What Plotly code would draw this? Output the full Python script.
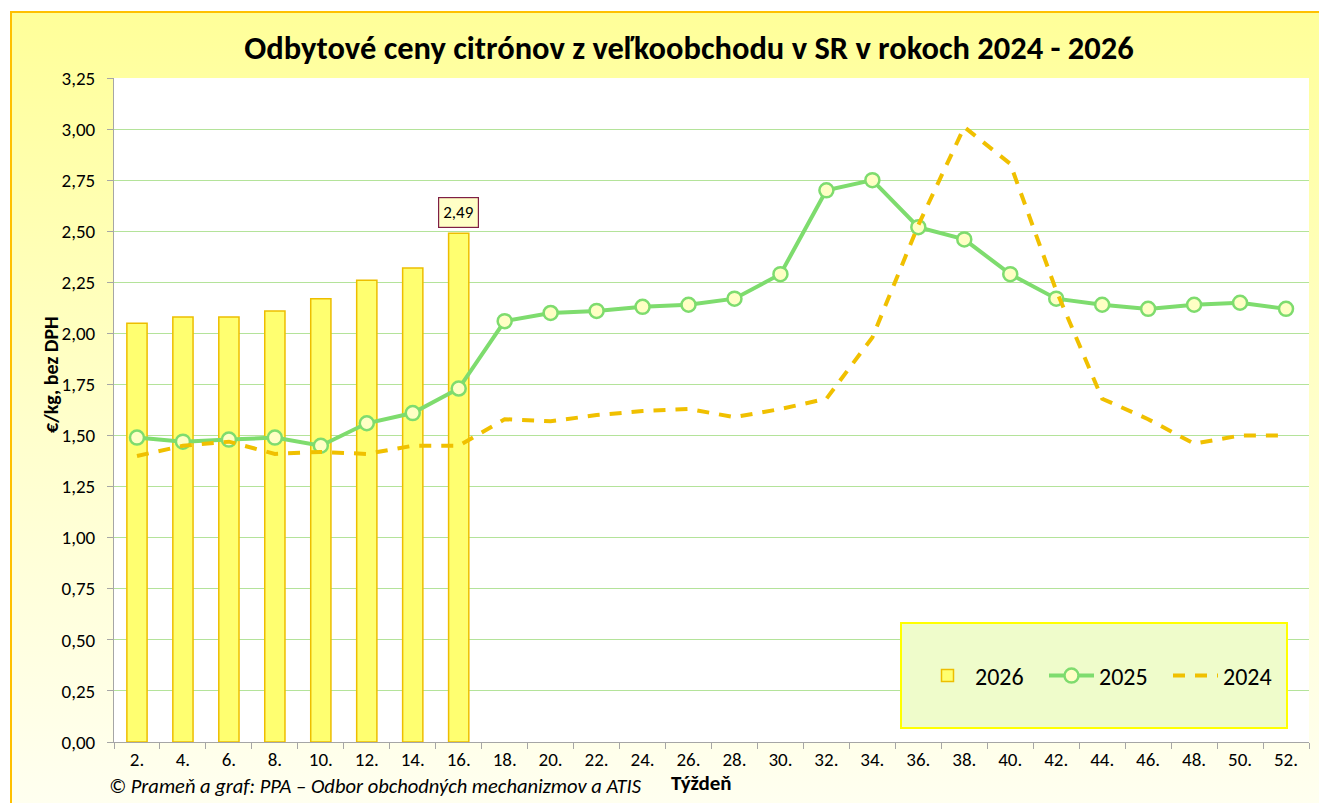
import base64
import plotly.graph_objects as go

# ---------------- data ----------------
weeks = ["2.", "4.", "6.", "8.", "10.", "12.", "14.", "16.", "18.", "20.", "22.", "24.", "26.",
         "28.", "30.", "32.", "34.", "36.", "38.", "40.", "42.", "44.", "46.", "48.", "50.", "52."]
weeks_2026 = weeks[:8]
v2026 = [2.05, 2.08, 2.08, 2.11, 2.17, 2.26, 2.32, 2.49]
v2025 = [1.49, 1.47, 1.48, 1.49, 1.45, 1.56, 1.61, 1.73, 2.06, 2.10, 2.11, 2.13, 2.14,
         2.17, 2.29, 2.70, 2.75, 2.52, 2.46, 2.29, 2.17, 2.14, 2.12, 2.14, 2.15, 2.12]
v2024 = [1.40, 1.45, 1.47, 1.41, 1.42, 1.41, 1.45, 1.45, 1.58, 1.57, 1.60, 1.62, 1.63,
         1.59, 1.63, 1.68, 1.98, 2.53, 3.01, 2.83, 2.21, 1.68, 1.58, 1.46, 1.50, 1.50]
label_week = "16."
label_value = 2.49

# ---------------- geometry helpers ----------------
OFF = 8                                # page body margin of the browser
W, H = 1327 - 2 * OFF, 811 - 2 * OFF   # figure size that fits without scrolling
# plot area in screen pixels: x 114..1309, y 78..742
L, R, T, B = 114 - OFF, W - (1309 - OFF), 78 - OFF, H - (742 - OFF)
PW, PH = W - L - R, H - T - B


def px(xs):  # screen x -> paper x
    return (xs - OFF - L) / PW


def py(ys):  # screen y -> paper y
    return (H - B - (ys - OFF)) / PH


FONT = "Carlito, Lato, 'Open Sans', sans-serif"

# background: white page, yellow gradient panel with orange border
bx, by = 11 - OFF, 12 - OFF
svg = f'''<svg xmlns="http://www.w3.org/2000/svg" width="{W}" height="{H}" viewBox="0 0 {W} {H}" preserveAspectRatio="none">
<defs><linearGradient id="g" x1="0" y1="0" x2="0" y2="1">
<stop offset="0" stop-color="#FFFF99"/><stop offset="0.5" stop-color="#FFFFCC"/><stop offset="1" stop-color="#FFFFF4"/></linearGradient></defs>
<rect width="{W}" height="{H}" fill="#FFFFFF"/>
<rect x="{bx}" y="{by}" width="{W + 40}" height="{H + 40}" fill="url(#g)" stroke="#FFC000" stroke-width="2"/>
</svg>'''
svg_uri = "data:image/svg+xml;base64," + base64.b64encode(svg.encode()).decode()

fig = go.Figure()

fig.add_trace(go.Bar(
    x=weeks_2026, y=v2026, name="2026",
    marker=dict(color="#FFFF70", line=dict(color="#EDBE00", width=1.5)),
))
fig.add_trace(go.Scatter(
    x=weeks, y=v2025, name="2025", mode="lines+markers",
    line=dict(color="#7EDC6E", width=4),
    marker=dict(size=14, color="#FFFFC4", line=dict(color="#7EDC6E", width=2.5)),
))
fig.add_trace(go.Scatter(
    x=weeks, y=v2024, name="2024", mode="lines",
    line=dict(color="#F0C000", width=4, dash="12px,10px"),
))

fig.add_annotation(
    x=weeks.index(label_week), y=label_value, xref="x", yref="y",
    text=f"{label_value:.2f}".replace(".", ","),
    showarrow=False, yanchor="bottom", yshift=5,
    font=dict(family=FONT, size=17, color="#000000"),
    bgcolor="#FFFFC6", bordercolor="#7F1F45", borderwidth=1.2, borderpad=4,
)

fig.add_annotation(
    x=px(37), y=py(375), xref="paper", yref="paper",
    text="<b>€/kg, bez DPH</b>", textangle=-90, showarrow=False,
    font=dict(family=FONT, size=20, color="#000000"),
)
fig.add_annotation(
    x=px(701), y=py(798), xref="paper", yref="paper",
    text="<b>Týždeň</b>", showarrow=False,
    font=dict(family=FONT, size=21, color="#000000"),
)
fig.add_annotation(
    x=px(107), y=py(801), xref="paper", yref="paper", xanchor="left",
    text="<i>© Prameň a graf: PPA – Odbor obchodných mechanizmov a ATIS</i>", showarrow=False,
    font=dict(family=FONT, size=20.5, color="#000000"),
)

fig.update_layout(
    width=W, height=H,
    margin=dict(l=L, r=R, t=T, b=B),
    paper_bgcolor="#FFFFFF", plot_bgcolor="rgba(0,0,0,0)",
    separators=", ",
    font=dict(family=FONT, color="#000000"),
    title=dict(text="<b>Odbytové ceny citrónov z veľkoobchodu v SR v rokoch 2024 - 2026</b>",
               x=(689 - OFF) / W, xanchor="center", y=1 - (48 - OFF) / H, yanchor="middle",
               font=dict(family=FONT, size=32.5, color="#000000")),
    bargap=0.56,
    showlegend=True,
    legend=dict(orientation="h", x=px(920), y=py(676), xanchor="left", yanchor="middle",
                bgcolor="rgba(0,0,0,0)", font=dict(family=FONT, size=24, color="#000000"),
                traceorder="normal", itemwidth=45, entrywidth=64),
    images=[dict(source=svg_uri, xref="paper", yref="paper", x=-L / PW, y=(PH + T) / PH,
                 sizex=W / PW, sizey=H / PH, xanchor="left", yanchor="top",
                 sizing="stretch", layer="below")],
    shapes=[
        dict(type="rect", xref="paper", yref="paper", x0=0, x1=1, y0=0, y1=1,
             fillcolor="#FFFFFF", line=dict(width=0), layer="below"),
        dict(type="rect", xref="paper", yref="paper", x0=px(901), x1=px(1287), y0=py(728), y1=py(623),
             fillcolor="#EFFCCB", line=dict(color="#FFFF00", width=2), layer="above"),
    ],
)

fig.update_xaxes(
    type="category", categoryorder="array", categoryarray=weeks,
    range=[-0.5, len(weeks) - 0.5],
    showline=True, linecolor="#A6A6A6", linewidth=1,
    ticks="outside", tickson="boundaries", ticklen=6, tickcolor="#A6A6A6",
    showgrid=False, tickfont=dict(family=FONT, size=19, color="#000000"),
)
fig.update_yaxes(
    range=[0, 3.25], dtick=0.25, tick0=0, tickformat=".2f",
    showline=True, linecolor="#A6A6A6", linewidth=1,
    ticks="outside", ticklen=6, tickcolor="#A6A6A6",
    showgrid=True, gridcolor="#B4E39A", gridwidth=1, zeroline=False,
    tickfont=dict(family=FONT, size=19, color="#000000"),
    ticklabelstandoff=8,
)

fig.write_html("out.html")
